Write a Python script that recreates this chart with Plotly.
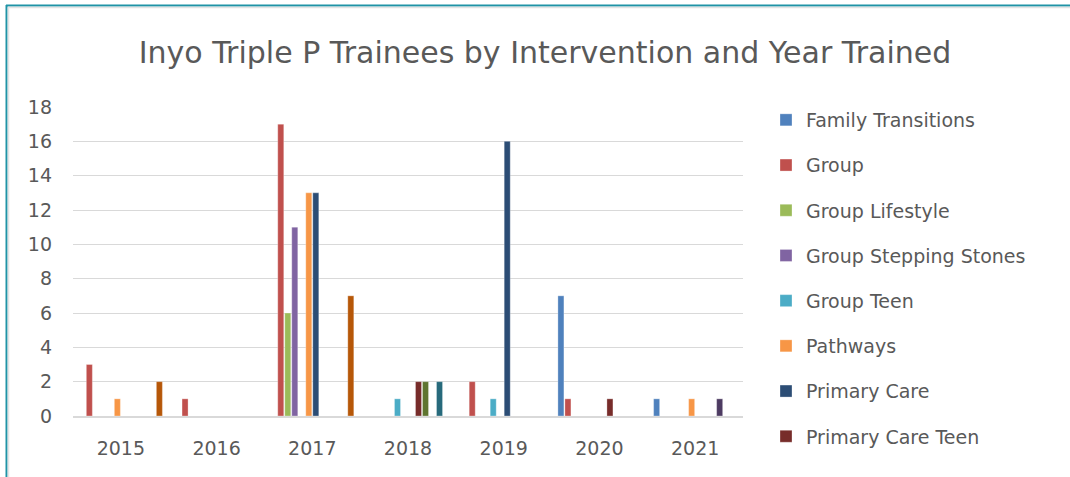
import plotly.graph_objects as go

years = ["2015", "2016", "2017", "2018", "2019", "2020", "2021"]

family_transitions = [None, None, None, None, None, 7, 1]
group = [3, 1, 17, None, 2, 1, None]
group_lifestyle = [None, None, 6, None, None, None, None]
group_stepping_stones = [None, None, 11, None, None, None, None]
group_teen = [None, None, None, 1, 1, None, None]
pathways = [1, None, 13, None, None, None, 1]
primary_care = [None, None, 13, None, 16, None, None]
primary_care_teen = [None, None, None, 2, None, 1, None]
standard = [None, None, None, 2, None, None, None]
standard_stepping_stones = [None, None, None, None, None, None, 1]
standard_teen = [None, None, None, 2, None, None, None]
stepping_stones = [2, None, 7, None, None, None, None]

series = [
    ("Family Transitions", family_transitions, "#4F81BD", True),
    ("Group", group, "#C0504D", True),
    ("Group Lifestyle", group_lifestyle, "#9BBB59", True),
    ("Group Stepping Stones", group_stepping_stones, "#8064A2", True),
    ("Group Teen", group_teen, "#4BACC6", True),
    ("Pathways", pathways, "#F79646", True),
    ("Primary Care", primary_care, "#2C4D75", True),
    ("Primary Care Teen", primary_care_teen, "#772C2A", True),
    ("Standard", standard, "#5F7530", False),
    ("Standard Stepping Stones", standard_stepping_stones, "#4D3B62", False),
    ("Standard Teen", standard_teen, "#276A7C", False),
    ("Stepping Stones", stepping_stones, "#B65708", False),
]

W, H = 1070, 477
L, R, T, B = 73, 327, 107, 61
pw, ph = W - L - R, H - T - B
FONT = "DejaVu Sans"

fig = go.Figure()
for i, (name, vals, color, show) in enumerate(series):
    fig.add_trace(go.Bar(
        name=name, x=years, y=vals,
        marker=dict(color=color, line=dict(color="rgba(255,255,255,0.5)", width=0.6)),
        showlegend=show, legendgroup="g%d" % i,
    ))

def px_x(p):
    return (p - L) / pw

def px_y(p):
    return (H - B - p) / ph

fig.add_shape(type="line", xref="paper", yref="paper",
              x0=px_x(6), x1=px_x(W + 5), y0=px_y(5.5), y1=px_y(5.5),
              line=dict(color="#1F93A6", width=2))
fig.add_shape(type="line", xref="paper", yref="paper",
              x0=px_x(6.5), x1=px_x(6.5), y0=px_y(5), y1=px_y(H + 5),
              line=dict(color="#1F93A6", width=2))
fig.add_shape(type="line", xref="paper", yref="paper",
              x0=px_x(8), x1=px_x(W + 5), y0=px_y(7.5), y1=px_y(7.5),
              line=dict(color="#E3E3E3", width=1.5))
fig.add_shape(type="line", xref="paper", yref="paper",
              x0=px_x(8.5), x1=px_x(8.5), y0=px_y(7.5), y1=px_y(H + 5),
              line=dict(color="#E3E3E3", width=1.5))

fig.update_layout(
    width=W, height=H,
    margin=dict(l=L, r=R, t=T, b=B, autoexpand=False),
    paper_bgcolor="white", plot_bgcolor="white",
    barmode="group", bargap=0.122, bargroupgap=0.14,
    font=dict(family=FONT, color="#595959"),
    title=dict(text="Inyo Triple P Trainees by Intervention and Year Trained",
               x=545 / W, xanchor="center", y=1 - 52 / H, yanchor="middle",
               font=dict(size=30, color="#595959", family=FONT)),
    xaxis=dict(showgrid=False, showline=True, linecolor="#D9D9D9", linewidth=1.5,
               ticks="", tickfont=dict(size=19, color="#595959"),
               ticklabelstandoff=14),
    yaxis=dict(range=[0, 18], dtick=2, showgrid=True, gridcolor="#D9D9D9",
               gridwidth=1.3, zeroline=False, showline=False, ticks="",
               tickfont=dict(size=19, color="#595959"), ticklabelstandoff=20),
    legend=dict(x=px_x(766), xanchor="left", y=px_y(101), yanchor="top",
                font=dict(size=19, color="#595959"), tracegroupgap=17.5,
                itemwidth=30, bgcolor="rgba(0,0,0,0)", maxheight=1),
)

fig.write_html("out.html", config={"displayModeBar": False},
               post_script="document.body.style.margin='0';")
